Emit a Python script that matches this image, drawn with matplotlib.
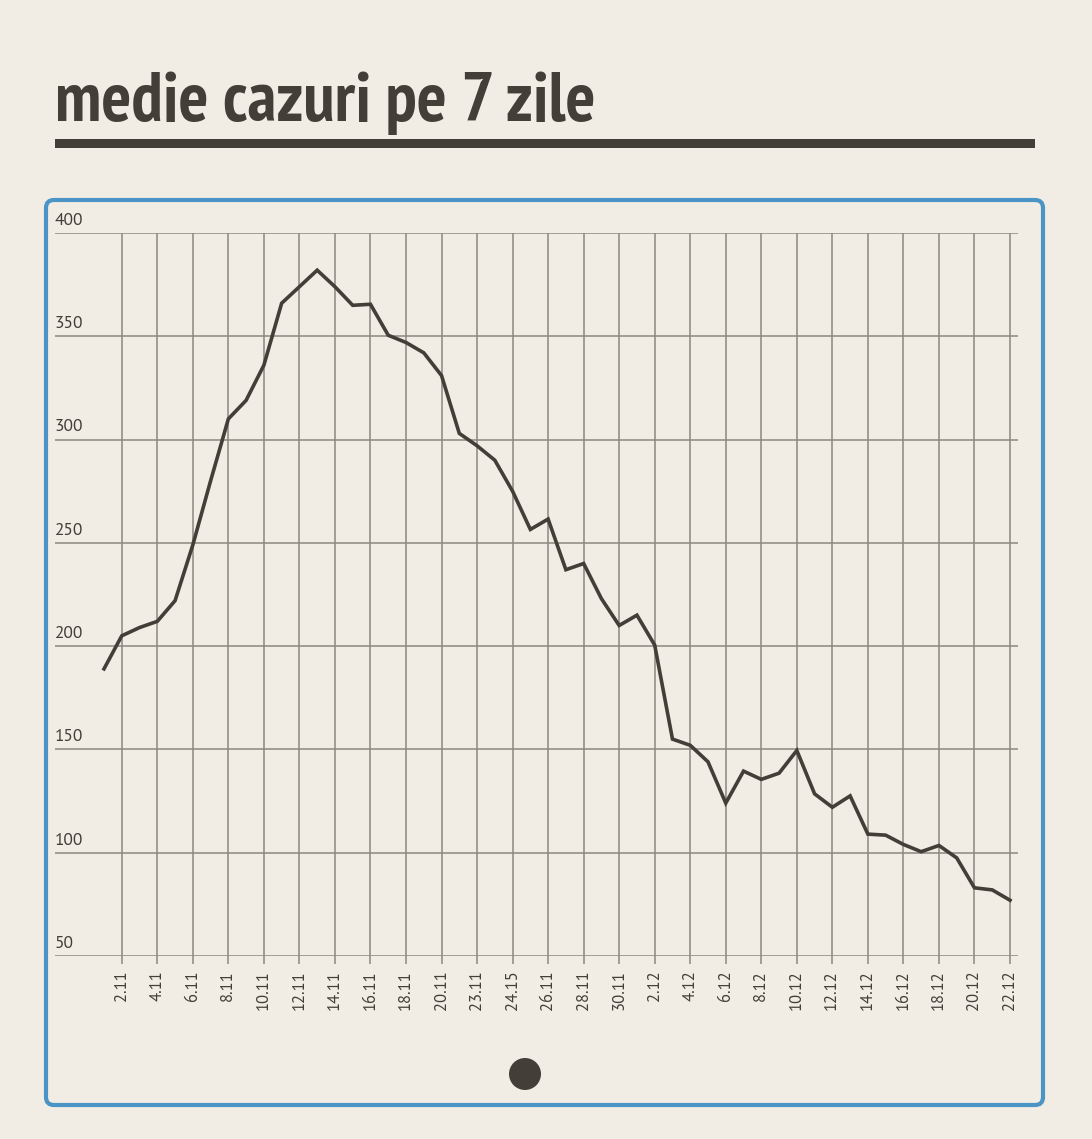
import matplotlib
matplotlib.use('Agg')
import matplotlib.pyplot as plt
import matplotlib.transforms as mtransforms
from matplotlib.patches import FancyBboxPatch, Rectangle, Circle

TITLE = 'medie cazuri pe 7 zile'

# 7-day average, one value per day from 1.11 to 22.12
values = [189, 205, 209, 212, 222, 249, 280, 310, 319, 336,
          366, 374, 382, 374, 365, 365.5, 350.5, 347, 342, 331,
          303, 297, 290, 275, 256.5, 261.5, 237, 240, 223, 210,
          215, 200.5, 155, 152, 144, 124, 139.5, 135.5, 138.5, 149.5,
          128.5, 122, 127.5, 109, 108.5, 104, 100.5, 103.5, 97.5, 83,
          82, 77]

tick_labels = ['2.11', '4.11', '6.11', '8.11', '10.11', '12.11', '14.11',
               '16.11', '18.11', '20.11', '23.11', '24.15', '26.11', '28.11',
               '30.11', '2.12', '4.12', '6.12', '8.12', '10.12', '12.12',
               '14.12', '16.12', '18.12', '20.12', '22.12']

y_ticks = [50, 100, 150, 200, 250, 300, 350, 400]

BG = '#f1ede4'
DARK = '#433f38'
BLUE = '#4a95c5'
GRID = '#8c8880'

TITLE_FONT = ['PT Sans Narrow', 'Fira Sans Extra Condensed', 'Roboto Condensed',
              'Open Sans Condensed', 'DejaVu Sans']
TICK_FONT = ['PT Sans', 'Lato', 'DejaVu Sans']

W, H = 1092, 1139
fig = plt.figure(figsize=(W / 100, H / 100), dpi=100, facecolor=BG)
inch = fig.dpi_scale_trans


def px(x, y):
    # pixel coords from top-left -> inches from bottom-left
    return x / 100, (H - y) / 100


# title + bar
tx, ty = px(55, 121)
fig.text(tx, ty, TITLE, transform=inch, fontsize=50.5, fontweight='bold',
         family=TITLE_FONT, color=DARK, va='baseline', ha='left')
bx, by = px(55, 148)
fig.add_artist(Rectangle((bx, by), 980 / 100, 8.5 / 100, transform=inch,
                         facecolor=DARK, edgecolor='none'))

# rounded blue card
cx, cy = px(46, 1105)
fig.add_artist(FancyBboxPatch((cx, cy), 997 / 100, 905 / 100,
                              boxstyle='round,pad=0,rounding_size=0.08',
                              transform=inch, facecolor='none',
                              edgecolor=BLUE, linewidth=3))

# pager dot
dx, dy = px(525, 1074)
fig.add_artist(Circle((dx, dy), 0.16, transform=inch, facecolor=DARK,
                      edgecolor='none'))

# chart area
ax = fig.add_axes([55 / W, (H - 956) / H, (1018 - 55) / W, (956 - 233) / H])
ax.set_facecolor('none')
x = list(range(len(values)))
ax.plot(x, values, color=DARK, linewidth=2.6, solid_joinstyle='miter',
        zorder=3)

step = (1010 - 104) / 51
ax.set_xlim(-(104 - 55) / step, 51 + (1018 - 1010) / step)
ax.set_ylim(50, 400)

ax.set_xticks(range(1, len(values), 2))
ax.set_xticklabels(tick_labels, rotation=90, fontsize=12, color=DARK,
                   family=TICK_FONT, va='top', ha='center')
ax.tick_params(axis='x', length=6, width=1.1, color=GRID, pad=4)
ax.set_yticks(y_ticks)
ax.tick_params(axis='y', length=0, labelleft=False)
ax.grid(True, color=GRID, linewidth=1.1)
ax.set_axisbelow(True)
for s in ax.spines.values():
    s.set_visible(False)

trans = mtransforms.blended_transform_factory(ax.transAxes, ax.transData)
for v in y_ticks:
    ax.annotate(str(v), (0, v), xycoords=trans, xytext=(0, 3),
                textcoords='offset points', fontsize=12.5, color=DARK,
                family=TICK_FONT, ha='left', va='bottom')

fig.savefig('out.png', dpi=100, facecolor=BG)
